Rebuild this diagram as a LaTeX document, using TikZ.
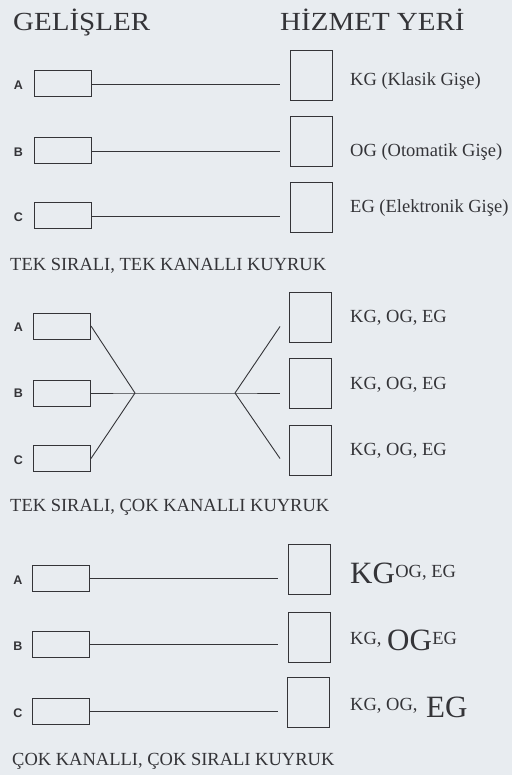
\documentclass[tikz,border=0pt]{standalone}
\usepackage{fontspec}
\setmainfont{Liberation Serif}
\newfontfamily\labfont{Liberation Sans}
\definecolor{paper}{RGB}{232,236,240}
\definecolor{ink}{RGB}{52,52,56}
\begin{document}
\begin{tikzpicture}[x=1pt,y=-1pt,
  inbox/.style={draw=ink,line width=1pt,minimum width=57pt,minimum height=26pt,inner sep=0pt},
  srv/.style={draw=ink,line width=1pt,minimum width=42pt,minimum height=50pt,inner sep=0pt},
  lbl/.style={font=\labfont\bfseries\fontsize{12.5}{13}\selectfont,text=ink,inner sep=0pt},
  txt/.style={font=\fontsize{18.5}{20}\selectfont,text=ink,anchor=base west,inner sep=0pt},
  sml/.style={font=\fontsize{18.5}{19}\selectfont,text=ink,anchor=base west,inner sep=0pt},
  big/.style={font=\fontsize{31}{33}\selectfont,text=ink,anchor=base west,inner sep=0pt},
  head/.style={font=\fontsize{29}{31}\selectfont,text=ink,anchor=base west,inner sep=0pt,yscale=0.9},
  conn/.style={draw=ink,line width=0.9pt}]
\fill[paper] (0,0) rectangle (512,775);
\useasboundingbox (0,0) rectangle (512,775);

% headings
\node[head] (h1) at (13,31) {GELİŞLER};
\node[head] (h2) at (280,31) {HİZMET YERİ};

% ---------- section 1 ----------
\node[inbox] (a1) at (62.5,84) {};
\node[inbox] (b1) at (62.5,151) {};
\node[inbox] (c1) at (62.5,216) {};
\node[lbl] (la1) at (18.5,85.5) {A};
\node[lbl] (lb1) at (18.5,152.5) {B};
\node[lbl] (lc1) at (18.5,217.5) {C};
\node[srv] (s1a) at (311,76) {};
\node[srv] (s1b) at (311,141.5) {};
\node[srv] (s1c) at (311,208) {};
\coordinate (e1a) at (280,84);
\coordinate (e1b) at (280,151);
\coordinate (e1c) at (280,216);
\draw[conn] (a1.east) -- (e1a);
\draw[conn] (b1.east) -- (e1b);
\draw[conn] (c1.east) -- (e1c);
\node[txt] (t1a) at (350,86) {KG (Klasik Gişe)};
\node[txt] (t1b) at (350,156.5) {OG (Otomatik Gişe)};
\node[txt] (t1c) at (350,213) {EG (Elektronik Gişe)};
\node[txt] (cap1) at (10,270.5) {TEK SIRALI, TEK KANALLI KUYRUK};

% ---------- section 2 ----------
\node[inbox] (a2) at (62,326) {};
\node[inbox] (b2) at (62,393) {};
\node[inbox] (c2) at (62,458.5) {};
\node[lbl] (la2) at (18.5,327.5) {A};
\node[lbl] (lb2) at (18.5,393.5) {B};
\node[lbl] (lc2) at (18.5,460) {C};
\coordinate (j1) at (135,393);
\coordinate (j2) at (235,393);
\coordinate (e2a) at (280,326.5);
\coordinate (e2b) at (280,393);
\coordinate (e2c) at (280,458.5);
\draw[conn] (a2.east) -- (j1);
\draw[conn] (c2.east) -- (j1);
\draw[conn] (b2.east) -- (j1) -- (j2) -- (e2b);
\draw[conn] (j2) -- (e2a);
\draw[conn] (j2) -- (e2c);
\node[srv] (s2a) at (310,317.5) {};
\node[srv] (s2b) at (310,383.5) {};
\node[srv] (s2c) at (310,450) {};
\node[txt] (t2a) at (350,322.5) {KG, OG, EG};
\node[txt] (t2b) at (350,389) {KG, OG, EG};
\node[txt] (t2c) at (350,455) {KG, OG, EG};
\node[txt] (cap2) at (10,511.5) {TEK SIRALI, ÇOK KANALLI KUYRUK};

% ---------- section 3 ----------
\node[inbox] (a3) at (60.5,578) {};
\node[inbox] (b3) at (60.5,644.5) {};
\node[inbox] (c3) at (60.5,711.5) {};
\node[lbl] (la3) at (18,580) {A};
\node[lbl] (lb3) at (18,646) {B};
\node[lbl] (lc3) at (18,713) {C};
\node[srv] (s3a) at (309,569) {};
\node[srv] (s3b) at (309,637) {};
\node[srv] (s3c) at (308,702.5) {};
\coordinate (e3a) at (278,578);
\coordinate (e3b) at (278,644.5);
\coordinate (e3c) at (278,711.5);
\draw[conn] (a3.east) -- (e3a);
\draw[conn] (b3.east) -- (e3b);
\draw[conn] (c3.east) -- (e3c);
% line 1
\node[big] (k3a) at (350,583) {KG};
\node[sml] (k3b) at (k3a.base east) [yshift=6pt] {OG, EG};
% line 2
\node[sml] (o3a) at (350,644) {KG,};
\node[big] (o3b) at (387,650) {OG};
\node[sml] (o3c) at (o3b.base east) [yshift=6pt] {EG};
% line 3
\node[sml] (g3a) at (350,710) {KG, OG,};
\node[big] (g3b) at (426,717) {EG};
\node[txt] (cap3) at (12,765) {ÇOK KANALLI, ÇOK SIRALI KUYRUK};
\end{tikzpicture}
\end{document}
